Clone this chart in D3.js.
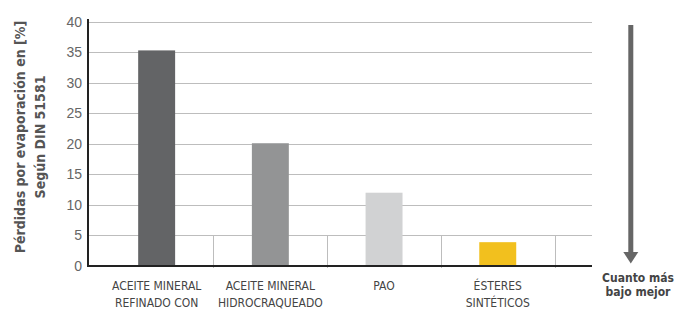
<!DOCTYPE html>
<html>
<head>
<meta charset="utf-8">
<script src="https://cdn.jsdelivr.net/npm/d3@7"></script>
<style>
  body { margin: 0; background: #fff; }
  text { font-family: "Liberation Sans Narrow", "DejaVu Sans Condensed", sans-serif; }
</style>
</head>
<body>
<div id="chart"></div>
<script>
// data
var categories = [
  ['ACEITE MINERAL', 'REFINADO CON'],
  ['ACEITE MINERAL', 'HIDROCRAQUEADO'],
  ['PAO'],
  ['ÉSTERES', 'SINTÉTICOS']
];
var values = [35.3, 20.1, 12, 3.9];
var barColors = ['#636466', '#939495', '#d1d2d3', '#f2c01e'];
var yTicks = [0, 5, 10, 15, 20, 25, 30, 35, 40];

var width = 686, height = 310;
var svg = d3.select('#chart').append('svg')
  .attr('width', width)
  .attr('height', height);

var plotLeft = 88, plotRight = 592, plotTop = 21.7, plotBottom = 266;

var y = d3.scaleLinear().domain([0, 40]).range([plotBottom, plotTop]);
var x = d3.scaleBand()
  .domain(d3.range(categories.length))
  .range([99.8, 554.6])
  .paddingInner(0.675)
  .paddingOuter(0.3375);

// gridlines
svg.append('g').selectAll('line')
  .data(yTicks.filter(function(d) { return d > 0; }))
  .enter().append('line')
  .attr('x1', plotLeft).attr('x2', plotRight)
  .attr('y1', function(d) { return Math.round(y(d)) + 0.5; })
  .attr('y2', function(d) { return Math.round(y(d)) + 0.5; })
  .attr('stroke', '#bdbdbd')
  .attr('stroke-width', 1);

// separators between categories
var step = x.step();
svg.append('g').selectAll('line')
  .data(d3.range(categories.length))
  .enter().append('line')
  .attr('x1', function(d) { return Math.round(x(d) + x.bandwidth() / 2 + step / 2) + 0.5; })
  .attr('x2', function(d) { return Math.round(x(d) + x.bandwidth() / 2 + step / 2) + 0.5; })
  .attr('y1', 235).attr('y2', 268)
  .attr('stroke', '#bdbdbd')
  .attr('stroke-width', 1);

// bars
svg.append('g').selectAll('rect')
  .data(values)
  .enter().append('rect')
  .attr('x', function(d, i) { return x(i); })
  .attr('width', x.bandwidth())
  .attr('y', function(d) { return y(d); })
  .attr('height', function(d) { return plotBottom - y(d); })
  .attr('fill', function(d, i) { return barColors[i]; });

// y axis
var yAxis = d3.axisLeft(y).tickValues(yTicks).tickSize(0).tickPadding(6);
var ga = svg.append('g').attr('transform', 'translate(' + plotLeft + ',0)').call(yAxis);
ga.select('.domain').remove();
ga.selectAll('text')
  .attr('fill', '#666')
  .style('font-family', '"Liberation Sans", Arial, sans-serif')
  .style('font-size', '14px');

svg.append('line')
  .attr('x1', plotLeft).attr('x2', plotLeft)
  .attr('y1', 19).attr('y2', plotBottom + 1)
  .attr('stroke', '#222').attr('stroke-width', 2);
svg.append('line')
  .attr('x1', plotLeft - 1).attr('x2', plotRight)
  .attr('y1', plotBottom).attr('y2', plotBottom)
  .attr('stroke', '#222').attr('stroke-width', 2);

// category labels
var lab = svg.append('g').selectAll('text')
  .data(categories)
  .enter().append('text')
  .attr('text-anchor', 'middle')
  .attr('fill', '#444')
  .style('font-size', '12px');
lab.selectAll('tspan')
  .data(function(d, i) { return d.map(function(t) { return { t: t, i: i }; }); })
  .enter().append('tspan')
  .attr('x', function(d) { return x(d.i) + x.bandwidth() / 2; })
  .attr('y', function(d, j) { return 290 + j * 17; })
  .text(function(d) { return d.t; });

// y title
var yt = svg.append('text')
  .attr('transform', 'translate(0,137) rotate(-90)')
  .attr('text-anchor', 'middle')
  .attr('fill', '#555')
  .style('font-size', '14px')
  .style('font-weight', 'bold');
yt.append('tspan').attr('x', 0).attr('y', 25).text('Pérdidas por evaporación en [%]');
yt.append('tspan').attr('x', 0).attr('y', 45).text('Según DIN 51581');

// arrow
svg.append('rect')
  .attr('x', 628.3).attr('y', 25)
  .attr('width', 5).attr('height', 228)
  .attr('fill', '#666');
svg.append('path')
  .attr('d', 'M623.3,252 L638.3,252 L630.8,263.5 Z')
  .attr('fill', '#666');

var note = svg.append('text')
  .attr('text-anchor', 'middle')
  .attr('fill', '#444')
  .style('font-size', '12px')
  .style('font-weight', 'bold');
note.append('tspan').attr('x', 638).attr('y', 282).text('Cuanto más');
note.append('tspan').attr('x', 638).attr('y', 296).text('bajo mejor');
</script>
</body>
</html>
